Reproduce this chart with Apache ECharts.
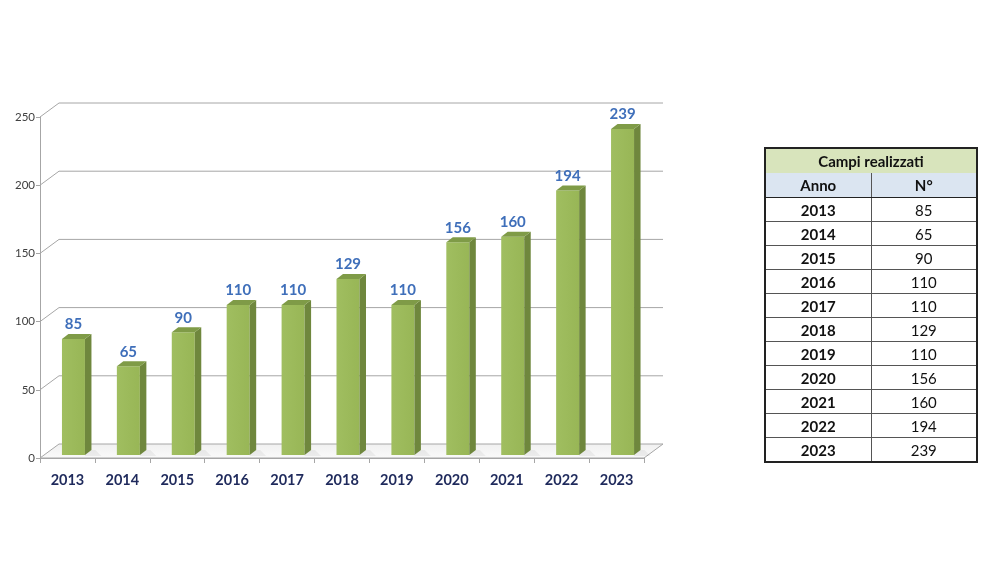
<!DOCTYPE html>
<html>
<head>
<meta charset="utf-8">
<script src="https://cdn.jsdelivr.net/npm/echarts@6/dist/echarts.min.js"></script>
<style>
    html, body { margin: 0; padding: 0; background: #fff; }
    #chart { position: absolute; left: 0; top: 0; width: 1000px; height: 563px; }
    #tbl {
        position: absolute; left: 764px; top: 147px; width: 214px;
        border-collapse: collapse; border: 2px solid #222; table-layout: fixed;
        font-family: Lato, 'Open Sans', sans-serif; font-size: 15px; color: #111;
    }
    #tbl td { text-align: center; padding: 0; border: 1px solid #555; height: 23px; width: 50%; }
    #tbl .titolo td { background: #d8e4bc; font-weight: bold; font-size: 15px; height: 24px; border-bottom: none; }
    #tbl .head td { background: #dbe5f1; font-weight: bold; height: 24px; border-top: none; border-bottom: 1.5px solid #222; }
    #tbl .anno { font-weight: bold; }
</style>
</head>
<body>
<div id="chart"></div>
<table id="tbl"></table>
<script>
    // dati del grafico
    var anni = ['2013', '2014', '2015', '2016', '2017', '2018', '2019', '2020', '2021', '2022', '2023'];
    var campi = [85, 65, 90, 110, 110, 129, 110, 156, 160, 194, 239];
    var yTicks = [0, 50, 100, 150, 200, 250];
    var titoloTabella = 'Campi realizzati';
    var intestazioni = ['Anno', 'N°'];

    // effetto 3D: profondità delle pareti e delle barre
    var DX = 19, DY = -14;
    var BAR = { shift: 6, lift: -3, w: 23, dx: 6.5, dy: -5 };

    var fontFam = 'Lato, "Open Sans", sans-serif';

    /**
     * pavimento e linee della griglia in prospettiva
     */
    function renderWalls(params, api) {
        var band = api.size([1, 0])[0];
        var left = api.coord([0, 0])[0] - band / 2;
        var right = api.coord([anni.length - 1, 0])[0] + band / 2;
        var base = api.coord([0, 0])[1];
        var children = [];

        children.push({
            type: 'polygon',
            shape: { points: [[left, base], [right, base], [right + DX, base + DY], [left + DX, base + DY]] },
            style: {
                fill: new echarts.graphic.LinearGradient(0, 0, 0, 1, [
                    { offset: 0, color: '#f0f0f0' },
                    { offset: 1, color: '#fafafa' }
                ]),
                stroke: '#a6a6a6',
                lineWidth: 1
            }
        });

        yTicks.forEach(function(t) {
            if (t === 0) return;
            var y = api.coord([0, t])[1];
            children.push({
                type: 'polyline',
                shape: { points: [[left, y], [left + DX, y + DY], [right + DX, y + DY]] },
                style: { stroke: '#a6a6a6', lineWidth: 1, fill: null }
            });
        });

        return { type: 'group', children: children };
    }

    /**
     * barra con faccia frontale, laterale e superiore
     */
    function renderBar(params, api) {
        var i = api.value(0);
        var v = api.value(1);
        var top = api.coord([i, v]);
        var bottom = api.coord([i, 0]);
        var x0 = top[0] + BAR.shift - BAR.w / 2;
        var x1 = x0 + BAR.w;
        var yT = top[1] + BAR.lift;
        var yB = bottom[1] + BAR.lift;

        return {
            type: 'group',
            children: [
                {
                    type: 'polygon',
                    shape: { points: [[x1, yB + 1], [x1 + BAR.dx + 10, yB + 1], [x1 + BAR.dx + 4, yB + BAR.dy], [x1, yB + BAR.dy]] },
                    style: { fill: 'rgba(0,0,0,0.05)' }
                },
                {
                    type: 'rect',
                    shape: { x: x0, y: yT, width: BAR.w, height: yB - yT },
                    style: {
                        fill: new echarts.graphic.LinearGradient(0, 0, 1, 0, [
                            { offset: 0, color: '#a0be60' },
                            { offset: 1, color: '#98b656' }
                        ])
                    }
                },
                {
                    type: 'polygon',
                    shape: { points: [[x1, yT], [x1 + BAR.dx, yT + BAR.dy], [x1 + BAR.dx, yB + BAR.dy], [x1, yB]] },
                    style: { fill: '#6f873d' }
                },
                {
                    type: 'polygon',
                    shape: { points: [[x0, yT], [x1, yT], [x1 + BAR.dx, yT + BAR.dy], [x0 + BAR.dx, yT + BAR.dy]] },
                    style: { fill: '#7f9b47' }
                },
                {
                    type: 'text',
                    x: (x0 + x1) / 2,
                    y: yT + BAR.dy - 2,
                    style: {
                        text: String(v),
                        align: 'center',
                        verticalAlign: 'bottom',
                        textAlign: 'center',
                        textVerticalAlign: 'bottom',
                        fill: '#3f6fba',
                        font: 'bold 15px ' + fontFam
                    }
                }
            ]
        };
    }

    var chart = echarts.init(document.getElementById('chart'));

    chart.setOption({
        animation: false,
        grid: {
            left: 40, top: 117, width: 604, height: 341,
            containLabel: false,
            outerBoundsMode: 'none'
        },
        xAxis: {
            type: 'category',
            data: anni,
            axisLine: { show: true, lineStyle: { color: '#a6a6a6' } },
            axisTick: { show: true, length: 5, lineStyle: { color: '#a6a6a6' } },
            axisLabel: {
                color: '#1f2a5c', fontWeight: 'bold', fontSize: 14.5,
                fontFamily: fontFam, margin: 15
            },
            splitLine: { show: false }
        },
        yAxis: {
            type: 'value',
            min: 0, max: 250, interval: 50,
            axisLine: { show: true, lineStyle: { color: '#a6a6a6' } },
            axisTick: { show: true, length: 4, lineStyle: { color: '#a6a6a6' } },
            axisLabel: { color: '#404040', fontSize: 11.5, fontFamily: fontFam, margin: 5 },
            splitLine: { show: false }
        },
        series: [
            {
                type: 'custom',
                z: 1,
                silent: true,
                renderItem: renderWalls,
                data: [[0, 0]]
            },
            {
                type: 'custom',
                z: 3,
                renderItem: renderBar,
                data: campi.map(function(v, i) { return [i, v]; })
            }
        ]
    });

    // tabella costruita dagli stessi dati
    var tbl = document.getElementById('tbl');
    var html = '<tr class="titolo"><td colspan="2">' + titoloTabella + '</td></tr>';
    html += '<tr class="head"><td>' + intestazioni[0] + '</td><td>' + intestazioni[1] + '</td></tr>';
    anni.forEach(function(a, i) {
        html += '<tr><td class="anno">' + a + '</td><td>' + campi[i] + '</td></tr>';
    });
    tbl.innerHTML = html;
</script>
</body>
</html>
